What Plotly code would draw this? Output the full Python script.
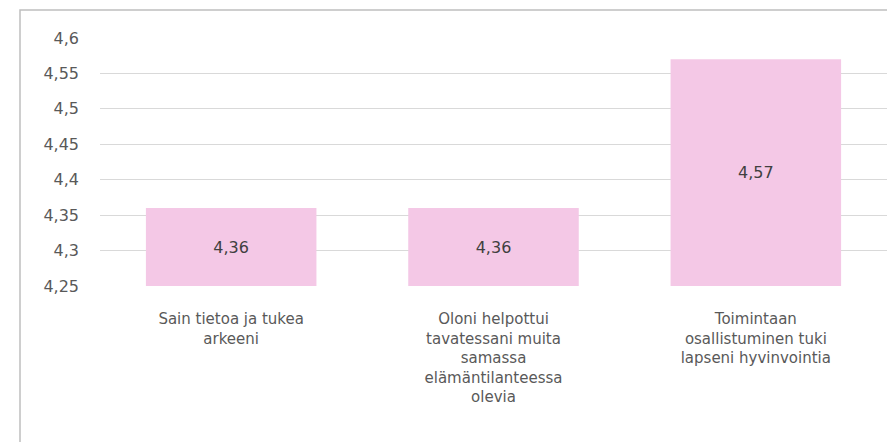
import plotly.graph_objects as go

categories = [
    "Sain tietoa ja tukea<br>arkeeni",
    "Oloni helpottui<br>tavatessani muita<br>samassa<br>elämäntilanteessa<br>olevia",
    "Toimintaan<br>osallistuminen tuki<br>lapseni hyvinvointia",
]
values = [4.36, 4.36, 4.57]
axis_min = 4.25
tick_vals = [4.25, 4.3, 4.35, 4.4, 4.45, 4.5, 4.55, 4.6]
tick_text = ["4,25", "4,3", "4,35", "4,4", "4,45", "4,5", "4,55", "4,6"]

FONT = "DejaVu Sans"
fig = go.Figure(
    go.Bar(
        x=categories,
        y=[v - axis_min for v in values],
        base=axis_min,
        customdata=values,
        marker=dict(color="#F4C8E6", line=dict(width=0)),
        width=0.65,
        texttemplate="%{customdata:.2f}",
        textposition="inside",
        insidetextanchor="middle",
        textangle=0,
        textfont=dict(family=FONT, size=16, color="#404040"),
    )
)

# page body has an 8px margin, so the figure is drawn 8px in from the corner
OFF = 8
W, H = 895 - OFF, 442 - OFF
L, R, T, B = 100 - OFF, 8, 38 - OFF, 442 - 286
pw = W - L - R
ph = H - T - B

fig.update_layout(
    width=W,
    height=H,
    margin=dict(l=L, r=R, t=T, b=B, pad=0),
    paper_bgcolor="white",
    plot_bgcolor="white",
    separators=", ",
    showlegend=False,
    font=dict(family=FONT, size=16, color="#595959"),
    bargap=0.35,
    xaxis=dict(
        showgrid=False,
        showline=False,
        ticks="",
        ticklabelstandoff=22,
        tickfont=dict(family=FONT, size=15, color="#595959"),
        tickangle=0,
    ),
    yaxis=dict(
        range=[axis_min, 4.6],
        tickvals=tick_vals,
        ticktext=tick_text,
        showgrid=True,
        gridcolor="#D9D9D9",
        gridwidth=1,
        zeroline=False,
        showline=False,
        ticks="",
        ticklabelstandoff=20,
        tickfont=dict(family=FONT, size=16, color="#595959"),
    ),
    shapes=[
        dict(
            type="rect",
            xref="paper",
            yref="paper",
            x0=(20 - OFF - L) / pw,
            x1=(W + 5 - L) / pw,
            y0=-(H + 5 - T - ph) / ph,
            y1=1 + (T - (10 - OFF)) / ph,
            line=dict(color="#BFBFBF", width=1.5),
            fillcolor="rgba(0,0,0,0)",
            layer="below",
        )
    ],
)

fig.write_html("out.html")
